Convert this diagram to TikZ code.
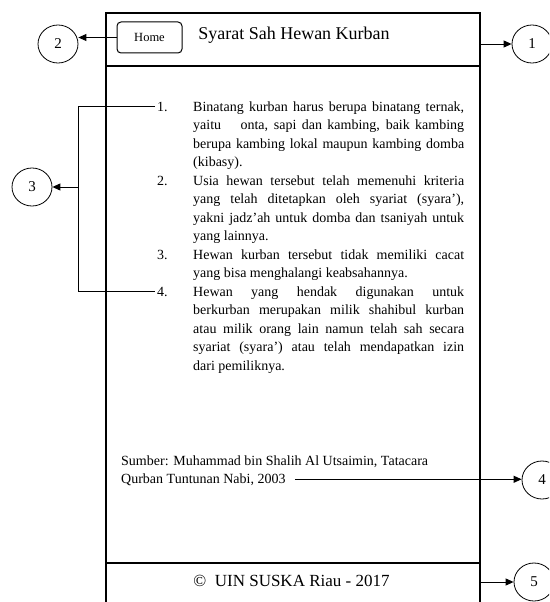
\documentclass[tikz,border=0pt]{standalone}
\usepackage{fontspec}
\setmainfont{Liberation Serif}
\usetikzlibrary{shapes.geometric,arrows.meta}

\tikzset{
  frame/.style={line width=1.2pt},
  conn/.style={line width=0.9pt},
  arr/.style={conn,-{Triangle[length=8pt,width=7pt]}},
  callout/.style={draw, ellipse, minimum width=40pt, minimum height=38pt,
    inner sep=0pt, line width=0.8pt, font=\fontsize{15}{17}\selectfont},
  button/.style={draw, rounded corners=4pt, line width=1pt, minimum width=65pt,
    minimum height=31pt, inner sep=0pt, font=\fontsize{12.5}{14}\selectfont},
  num/.style={anchor=base west, inner xsep=2pt, inner ysep=0pt,
    font=\fontsize{14}{18.5}\selectfont},
  body/.style={anchor=base west, inner sep=0pt,
    font=\fontsize{14}{18.5}\selectfont},
}

\newcommand{\itemtext}[1]{\parbox[t]{271pt}{\setlength{\baselineskip}{18.5pt}\tolerance=10000 #1}}

\begin{document}
\begin{tikzpicture}[x=1pt,y=-1pt]
  \useasboundingbox (0,0) rectangle (549,602);
  \clip (0,0) rectangle (549,602);

  % page frame with header and footer bars
  \draw[frame] (106,640) -- (106,13) -- (480,13) -- (480,640);
  \draw[frame] (106,66) -- (480,66);
  \draw[frame] (106,563) -- (480,563);
  \coordinate (fr) at (480,0);
  \coordinate (bar) at (78,0);

  % header
  \node[button] (home) at (149.5,37.5) {Home};
  \node[anchor=base, inner sep=0pt, font=\fontsize{18}{20}\selectfont] (title) at (294,40) {Syarat Sah Hewan Kurban};

  % numbered list
  \node[num] (n1) at (155,111) {1.};
  \node[body] (t1) at (193,111) {\itemtext{Binatang kurban harus berupa binatang ternak,\linebreak
    yaitu\hspace{14pt} onta, sapi dan kambing, baik kambing\linebreak
    berupa kambing lokal maupun kambing domba\linebreak
    (kibasy).}};
  \node[num] (n2) at (155,185) {2.};
  \node[body] (t2) at (193,185) {\itemtext{Usia hewan tersebut telah memenuhi kriteria\linebreak
    yang telah ditetapkan oleh syariat (syara'),\linebreak
    yakni jadz'ah untuk domba dan tsaniyah untuk\linebreak
    yang lainnya.}};
  \node[num] (n3) at (155,259) {3.};
  \node[body] (t3) at (193,259) {\itemtext{Hewan kurban tersebut tidak memiliki cacat\linebreak
    yang bisa menghalangi keabsahannya.}};
  \node[num] (n4) at (155,296) {4.};
  \node[body] (t4) at (193,296) {\itemtext{Hewan yang hendak digunakan untuk\linebreak
    berkurban merupakan milik shahibul kurban\linebreak
    atau milik orang lain namun telah sah secara\linebreak
    syariat (syara') atau telah mendapatkan izin\linebreak
    dari pemiliknya.}};

  % source
  \node[body] (src1) at (121,465) {Sumber: Muhammad bin Shalih Al Utsaimin, Tatacara};
  \node[body] (src2) at (121,483) {Qurban Tuntunan Nabi, 2003};

  % footer
  \node[anchor=base, inner sep=0pt, font=\fontsize{17}{19}\selectfont] (foot) at (291.5,586) {©\ \ UIN SUSKA Riau - 2017};

  % callouts
  \node[callout] (c1) at (532,44) {1};
  \node[callout] (c2) at (58,44) {2};
  \node[callout] (c3) at (32,187) {3};
  \node[callout] (c4) at (542,480) {4};
  \node[callout] (c5) at (534,582) {5};

  % connectors
  \draw[arr] (c1.west -| fr) -- (c1.west);
  \draw[arr] (home.west) -- (home.west -| c2.east);
  \draw[conn] (n1.west) -- (n1.west -| bar) -- (n4.west -| bar) -- (n4.west);
  \draw[arr] (c3.east -| bar) -- (c3.east);
  \draw[arr] ([xshift=9pt]src2.east) -- (src2.east -| c4.west);
  \draw[arr] (c5.west -| fr) -- (c5.west);
\end{tikzpicture}
\end{document}
